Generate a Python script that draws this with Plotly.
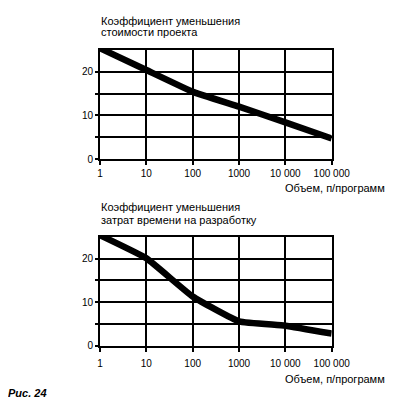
import plotly.graph_objects as go

# Data
volume_cost = [1, 10, 100, 1000, 10000, 100000]
cost_factor = [25.4, 20.4, 15.4, 12.0, 8.4, 4.7]

volume_time = [1, 10, 100, 1000, 10000, 100000]
time_factor = [25.4, 20.1, 11.3, 5.6, 4.6, 2.8]

x_tickvals = [1, 10, 100, 1000, 10000, 100000]
x_ticktext = ["1", "10", "100", "1000", "10 000", "100 000"]
y_tickvals = [0, 5, 10, 15, 20]
y_ticktext = ["0", "", "10", "", "20"]

title_top = ["Коэффициент уменьшения", "стоимости проекта"]
title_bottom = ["Коэффициент уменьшения", "затрат времени на разработку"]
x_title = "Объем, п/программ"
caption = "Рис. 24"

# page body has an 8px margin; size the figure so the page fits the window
OFF = 8
W, H = 379, 394
FONT = "Liberation Sans, Arial, sans-serif"

def px_x(x):
    return (x - OFF) / W

def px_y(y):
    return 1 - (y - OFF) / H

fig = go.Figure()
fig.add_trace(go.Scatter(x=volume_cost, y=cost_factor, mode="lines",
                         line=dict(color="black", width=6.5, shape="spline", smoothing=0.2),
                         xaxis="x", yaxis="y", showlegend=False, hoverinfo="skip"))
fig.add_trace(go.Scatter(x=volume_time, y=time_factor, mode="lines",
                         line=dict(color="black", width=6.5, shape="spline", smoothing=0.35),
                         xaxis="x2", yaxis="y2", showlegend=False, hoverinfo="skip"))

xd = [px_x(100), px_x(331.7)]

def ydom(top_px, bottom_px):
    return [px_y(bottom_px), px_y(top_px)]

xax = dict(type="log", range=[0, 5], tickvals=x_tickvals, ticktext=x_ticktext,
           showgrid=True, gridcolor="black", gridwidth=2, showline=True,
           linecolor="black", linewidth=2, mirror=True, ticks="outside",
           ticklen=4, tickwidth=2, tickcolor="black", zeroline=False, automargin=False,
           tickfont=dict(family=FONT, size=10, color="black"), domain=xd)
yax = dict(range=[0, 25], tickvals=y_tickvals, ticktext=y_ticktext,
           showgrid=True, gridcolor="black", gridwidth=2, showline=True,
           linecolor="black", linewidth=2, mirror=True, ticks="outside",
           ticklen=3, tickwidth=2, tickcolor="black", zeroline=False, automargin=False,
           tickfont=dict(family=FONT, size=10, color="black"))

fig.update_layout(
    width=W, height=H,
    margin=dict(l=0, r=0, t=0, b=0, pad=0, autoexpand=False),
    showlegend=False,
    paper_bgcolor="white", plot_bgcolor="white",
    xaxis=dict(xax, anchor="y", ticklabelstandoff=0),
    yaxis=dict(yax, anchor="x", domain=ydom(50, 159)),
    xaxis2=dict(xax, anchor="y2", ticklabelstandoff=3),
    yaxis2=dict(yax, anchor="x2", domain=ydom(237, 345.7)),
)

def ann(text, x_px, y_px, xanchor="left", size=11, bold_italic=False):
    if bold_italic:
        text = "<b><i>" + text + "</i></b>"
    fig.add_annotation(text=text, xref="paper", yref="paper",
                       x=px_x(x_px), y=px_y(y_px), xanchor=xanchor, yanchor="middle",
                       showarrow=False, font=dict(family=FONT, size=size, color="black"))

ann(title_top[0], 99, 20.7)
ann(title_top[1], 99, 32.3)
ann(title_bottom[0], 99, 207.3)
ann(title_bottom[1], 99, 220)
ann(x_title, 387, 188, xanchor="right")
ann(x_title, 387, 379, xanchor="right")
ann(caption, 6, 393, bold_italic=True)

fig.write_html("out.html")
